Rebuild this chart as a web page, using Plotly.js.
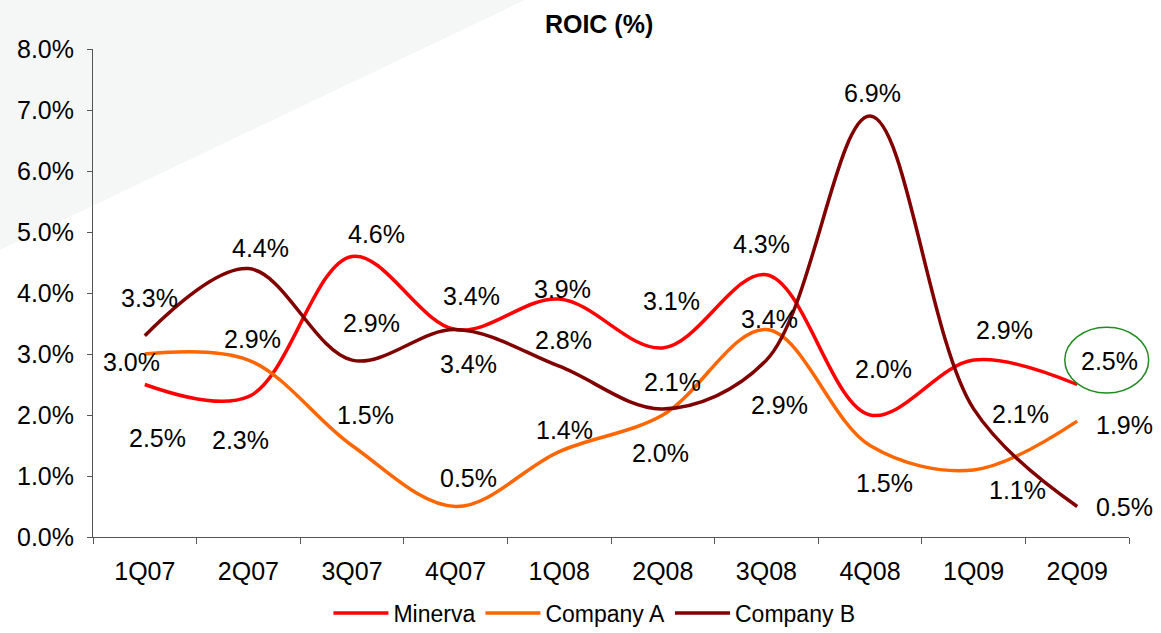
<!DOCTYPE html>
<html>
<head>
<meta charset="utf-8">
<script src="https://cdn.plot.ly/plotly-3.0.1.min.js"></script>
<style>
  html, body { margin: 0; padding: 0; background: #ffffff; }
  #chart { width: 1161px; height: 633px; }
</style>
</head>
<body>
<div id="chart"></div>
<script>
// ---- Data ----
const categories = ['1Q07', '2Q07', '3Q07', '4Q07', '1Q08', '2Q08', '3Q08', '4Q08', '1Q09', '2Q09'];
const minerva  = [2.5, 2.3, 4.6, 3.4, 3.9, 3.1, 4.3, 2.0, 2.9, 2.5];
const companyA = [3.0, 2.9, 1.5, 0.5, 1.4, 2.0, 3.4, 1.5, 1.1, 1.9];
const companyB = [3.3, 4.4, 2.9, 3.4, 2.8, 2.1, 2.9, 6.9, 2.1, 0.5];
const seriesNames = ['Minerva', 'Company A', 'Company B'];

// ---- Styles (label offsets in px: [dx, dy up]) ----
const colors = ['#ff0000', '#ff6600', '#800000'];
const minervaShift  = [[13,-53],[-8,-43],[24,22],[16,34],[3,10],[9,47],[-5,31],[13,46],[31,30],[32,24]];
const companyAShift = [[-13,-8],[4,21],[13,31],[13,29],[5,22],[-2,-38],[3,11],[14,-37],[44,-20],[47,-4]];
const companyBShift = [[5,38],[12,21],[19,37],[13,-34],[4,26],[10,27],[13,-45],[2,23],[47,-5],[47,0]];

const FONT = 'Liberation Sans, Arial, sans-serif';

const allSeries = [minerva, companyA, companyB];
const allShifts = [minervaShift, companyAShift, companyBShift];

const traces = allSeries.map((vals, i) => ({
  type: 'scatter',
  mode: 'lines',
  name: seriesNames[i],
  x: categories,
  y: vals,
  line: { color: colors[i], width: 3.5, shape: 'spline', smoothing: 1.0 },
  hoverinfo: 'skip'
}));

const annotations = [];
allSeries.forEach((vals, i) => {
  vals.forEach((v, j) => {
    annotations.push({
      x: categories[j], y: v, xref: 'x', yref: 'y',
      text: v.toFixed(1) + '%',
      showarrow: false,
      xanchor: 'center', yanchor: 'middle',
      xshift: allShifts[i][j][0], yshift: allShifts[i][j][1],
      font: { family: FONT, size: 25, color: '#000000' }
    });
  });
});

const layout = {
  width: 1161, height: 633,
  margin: { l: 93, r: 32, t: 49, b: 96, autoexpand: false },
  paper_bgcolor: '#ffffff',
  plot_bgcolor: 'rgba(0,0,0,0)',
  font: { family: FONT, size: 25, color: '#000000' },
  title: {
    text: '<b>ROIC (%)</b>',
    font: { family: FONT, size: 25, color: '#000000' },
    x: 0.516, xanchor: 'center', xref: 'container',
    y: 0.962, yanchor: 'middle', yref: 'container'
  },
  xaxis: {
    type: 'category',
    range: [-0.5, 9.5],
    tickson: 'boundaries',
    ticks: 'outside', ticklen: 6, tickcolor: '#555555', tickwidth: 1,
    showline: true, linecolor: '#555555', linewidth: 1,
    showgrid: false, zeroline: false,
    ticklabelstandoff: 12,
    tickfont: { family: FONT, size: 25, color: '#000000' },
    automargin: false,
    fixedrange: true
  },
  yaxis: {
    range: [0, 8], dtick: 1, tick0: 0,
    tickformat: '.1f', ticksuffix: '%',
    ticks: 'outside', ticklen: 5, tickcolor: '#555555', tickwidth: 1,
    showline: true, linecolor: '#555555', linewidth: 1,
    showgrid: false, zeroline: false,
    ticklabelstandoff: 8,
    tickfont: { family: FONT, size: 25, color: '#000000' },
    automargin: false,
    fixedrange: true
  },
  showlegend: true,
  legend: {
    orientation: 'h',
    x: 0.484, xanchor: 'center',
    y: -0.156, yanchor: 'middle',
    font: { family: FONT, size: 23, color: '#000000' },
    itemwidth: 55,
    bgcolor: 'rgba(0,0,0,0)'
  },
  shapes: [
    {
      type: 'path', xref: 'paper', yref: 'paper', layer: 'below',
      path: 'M -0.0898 1.1004 L 0.417 1.1004 L -0.0898 0.588 Z',
      fillcolor: '#f5f6f6', line: { width: 0 }
    },
    {
      type: 'circle', xref: 'paper', yref: 'paper', layer: 'above',
      x0: 0.938, x1: 1.019, y0: 0.295, y1: 0.430,
      line: { color: '#1e8c1e', width: 1.5 }
    }
  ],
  annotations: annotations
};

Plotly.newPlot('chart', traces, layout, { displayModeBar: false, staticPlot: true });
</script>
</body>
</html>
